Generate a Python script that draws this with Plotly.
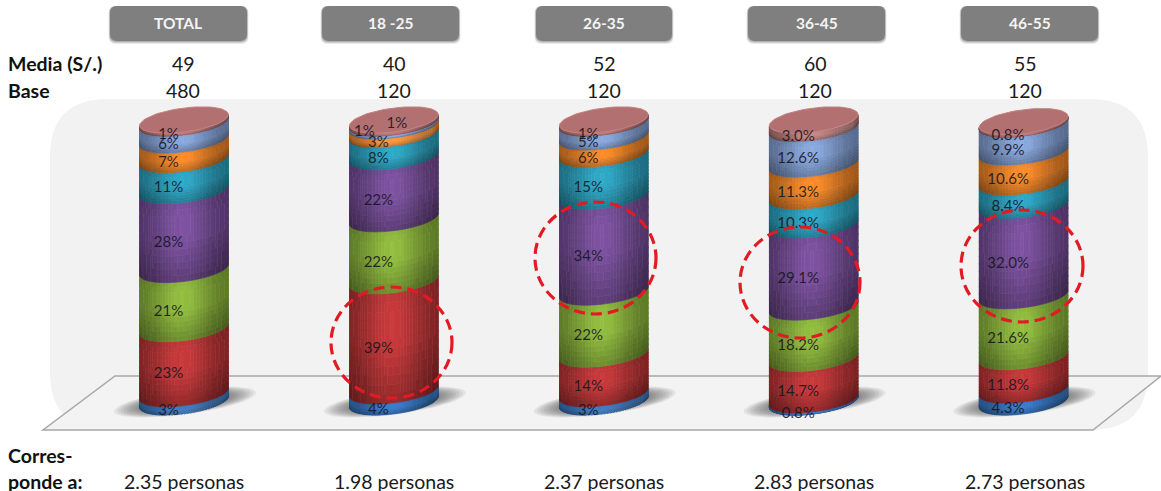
import math
import plotly.graph_objects as go

# ---------- data ----------
categories = ["TOTAL", "18 -25", "26-35", "36-45", "46-55"]
media = [49, 40, 52, 60, 55]
base = [480, 120, 120, 120, 120]
personas = ["2.35 personas", "1.98 personas", "2.37 personas", "2.83 personas", "2.73 personas"]

serie_azul = [3, 4, 3, 0.8, 4.3]
serie_roja = [23, 39, 14, 14.7, 11.8]
serie_verde = [21, 22, 22, 18.2, 21.6]
serie_morada = [28, 22, 34, 29.1, 32.0]
serie_turquesa = [11, 8, 15, 10.3, 8.4]
serie_naranja = [7, 3, 6, 11.3, 10.6]
serie_celeste = [6, 1, 5, 12.6, 9.9]
serie_rosa = [1, 1, 1, 3.0, 0.8]
decimales = [0, 0, 0, 1, 1]

# ---------- style ----------
W, H = 1161, 491
FONT = "Lato"
series = [serie_azul, serie_roja, serie_verde, serie_morada,
          serie_turquesa, serie_naranja, serie_celeste, serie_rosa]
colores = [(58, 122, 198), (194, 56, 58), (142, 184, 62), (122, 80, 156),
           (46, 164, 194), (244, 136, 42), (134, 164, 216), (186, 118, 118)]

X0_PX, DX_PX = 184.0, 209.9     # pixel position of category 0, pixels per category
Y0_PX, DY_PX = 402.0, 2.82      # pixel position of 0 %, pixels per 1 %
R_PX, TILT_PX, MINOR_PX = 44.3, 5.5, 12.0
COLS, ROWS, LEVELS = 44, 12, 40

xrange_ = [(0 - X0_PX) / DX_PX, (W - X0_PX) / DX_PX]
yrange_ = [(Y0_PX - H) / DY_PX, Y0_PX / DY_PX]


def px(x):
    return x / W


def py(y):
    return 1 - y / H


def arc(u):
    """Front edge of a slice, in percentage units."""
    return (TILT_PX * u - MINOR_PX * math.sqrt(max(0.0, 1 - u * u))) / DY_PX


def shade_h(u):
    return 0.64 + 0.38 * math.exp(-((u + 0.05) / 0.62) ** 2)


def shade_v(v):
    # v = 0 bottom of slice, 1 top of slice
    return 0.76 + 0.26 * min(1.0, v / 0.55) - 0.05 * max(0.0, (v - 0.8) / 0.2)


fig = go.Figure()

# floor shadows
for i in range(len(categories)):
    for n in range(12):
        f = 1.0 - n * 0.045
        xs, ys = [], []
        for k in range(61):
            t = 2 * math.pi * k / 60
            c, s = math.cos(t), math.sin(t)
            xp = 1 + 71 * f * c
            yp = -0.13 * 71 * f * c + 12.5 * f * s
            xs.append(i + xp / DX_PX)
            ys.append(-yp / DY_PX)
        fig.add_trace(go.Scatter(x=xs, y=ys, mode="lines", fill="toself",
                                 fillcolor="rgba(60,60,60,0.085)", line=dict(width=0),
                                 hoverinfo="skip", showlegend=False))

# cylinder slices, grouped per colour level
uu = [-math.cos(math.pi * k / COLS) for k in range(COLS + 1)]
r_u = R_PX / DX_PX
for s_idx, (vals, col) in enumerate(zip(series, colores)):
    buckets = {}
    for i in range(len(categories)):
        lo = sum(series[j][i] for j in range(s_idx))
        val = vals[i]
        for c in range(COLS):
            u0, u1 = uu[c], uu[c + 1]
            um = (u0 + u1) / 2
            for r in range(ROWS):
                f0, f1 = r / ROWS, (r + 1) / ROWS
                sh = shade_h(um) * shade_v((f0 + f1) / 2)
                level = round(sh * LEVELS)
                polys = buckets.setdefault(level, ([], []))
                polys[0].extend([i + u0 * r_u, i + u1 * r_u, i + u1 * r_u, i + u0 * r_u, i + u0 * r_u, None])
                polys[1].extend([lo + val * f0 + arc(u0), lo + val * f0 + arc(u1),
                                 lo + val * f1 + arc(u1), lo + val * f1 + arc(u0),
                                 lo + val * f0 + arc(u0), None])
    for level, (xs, ys) in sorted(buckets.items()):
        k = level / LEVELS
        rgb = tuple(min(255, int(ch * k)) for ch in col)
        colour = f"rgb{rgb}"
        fig.add_trace(go.Scatter(x=xs, y=ys, mode="lines", fill="toself", fillcolor=colour,
                                 line=dict(width=0.6, color=colour),
                                 hoverinfo="skip", showlegend=False))

# top caps
for i in range(len(categories)):
    top = sum(s[i] for s in series)
    xs, ys = [], []
    for k in range(73):
        t = 2 * math.pi * k / 72
        u = math.cos(t)
        xs.append(i + u * r_u)
        ys.append(top + (TILT_PX * u + MINOR_PX * math.sin(t)) / DY_PX)
    fig.add_trace(go.Scatter(x=xs, y=ys, mode="lines", fill="toself", fillcolor="rgb(178,112,112)",
                             line=dict(width=1.0, color="rgb(196,130,130)"),
                             hoverinfo="skip", showlegend=False))

# data labels
LABEL_DX, LABEL_DY = -15.5, 13.5
nudges = {(1, 6): (-14.0, -5.0), (1, 7): (18.5, -11.0)}
lx, ly, lt = [], [], []
for s_idx, vals in enumerate(series):
    for i in range(len(categories)):
        lo = sum(series[j][i] for j in range(s_idx))
        ndx, ndy = nudges.get((i, s_idx), (0.0, 0.0))
        lx.append(i + (LABEL_DX + ndx) / DX_PX)
        ly.append(lo + vals[i] / 2 - (LABEL_DY + ndy) / DY_PX)
        lt.append(f"{vals[i]:.{decimales[i]}f}%")
fig.add_trace(go.Scatter(x=lx, y=ly, text=lt, mode="text", textposition="middle center",
                         textfont=dict(family=FONT, size=15, color="rgba(20,20,30,0.88)"),
                         hoverinfo="skip", showlegend=False))


def round_rect(x0, y0, x1, y1, r):
    rx, ry = r / W, r / H
    a, b, c, d = px(x0), px(x1), py(y0), py(y1)
    return (f"M {a+rx},{c} L {b-rx},{c} Q {b},{c} {b},{c-ry} L {b},{d+ry} Q {b},{d} {b-rx},{d} "
            f"L {a+rx},{d} Q {a},{d} {a},{d+ry} L {a},{c-ry} Q {a},{c} {a+rx},{c} Z")


shapes = []
# rounded panel
shapes.append(dict(type="path", path=round_rect(50, 99, 1148, 430, 58), xref="paper", yref="paper",
                   fillcolor="#f2f2f2", line=dict(width=0), layer="below"))
# floor
floor = [(115, 376), (1161, 376), (1093, 430), (43, 430)]
path = "M " + " L ".join(f"{px(a)},{py(b)}" for a, b in floor) + " Z"
shapes.append(dict(type="path", path=path, xref="paper", yref="paper", fillcolor="#f3f3f3",
                   line=dict(width=1.5, color="#a8a8a8"), layer="below"))
# header buttons
button_edges = [(110, 247), (322, 459), (536, 672), (748, 885), (961, 1098)]
for a, b in button_edges:
    for off, colr in [(3, "rgba(0,0,0,0.08)"), (2, "rgba(0,0,0,0.12)"), (1, "rgba(0,0,0,0.15)")]:
        shapes.append(dict(type="path", path=round_rect(a - off / 2, 6, b + off / 2, 41 + off, 7),
                           xref="paper", yref="paper", fillcolor=colr, line=dict(width=0), layer="below"))
    shapes.append(dict(type="path", path=round_rect(a, 6, b, 41, 7), xref="paper", yref="paper",
                       fillcolor="#7f7f7f", line=dict(width=0), layer="below"))
# highlight circles
circles = [(331, 287, 452, 398), (535, 202, 656, 314), (740, 227, 860, 338), (961, 210, 1083, 322)]
for a, b, c, d in circles:
    shapes.append(dict(type="circle", xref="paper", yref="paper", x0=px(a), x1=px(c), y0=py(d), y1=py(b),
                       line=dict(color="#e01b24", width=3.2, dash="11px,6px"), layer="above"))

annotations = []


def note(x, y, text, size=19.5, color="#1a1a1a", bold=False, anchor="center"):
    t = f"<b>{text}</b>" if bold else text
    annotations.append(dict(x=px(x), y=py(y), xref="paper", yref="paper", text=t, showarrow=False,
                            xanchor=anchor, yanchor="middle",
                            font=dict(family=FONT, size=size, color=color)))


header_x = [178.5, 390.5, 604, 816.5, 1029.5]
row_x = [183, 394, 604, 815, 1025]
pers_x = [184, 394, 604, 814, 1025]
for i, cat in enumerate(categories):
    note(header_x[i], 23, cat, size=15.5, color="#f4f4f4", bold=True)
    note(row_x[i], 64, str(media[i]))
    note(row_x[i], 90, str(base[i]))
    note(pers_x[i], 481, personas[i])
for text, y in [("Media (S/.)", 64), ("Base", 90), ("Corres-", 455), ("ponde a:", 481)]:
    note(6, y, text, bold=True, anchor="left", color="#111111")

fig.update_layout(
    width=W, height=H, autosize=False, margin=dict(l=0, r=0, t=0, b=0),
    paper_bgcolor="white", plot_bgcolor="rgba(0,0,0,0)", showlegend=False,
    xaxis=dict(range=xrange_, visible=False, fixedrange=True),
    yaxis=dict(range=yrange_, visible=False, fixedrange=True),
    shapes=shapes, annotations=annotations,
)
fig.write_html("out.html", config={"displayModeBar": False},
               post_script="document.body.style.margin='0';document.body.style.overflow='hidden';")
